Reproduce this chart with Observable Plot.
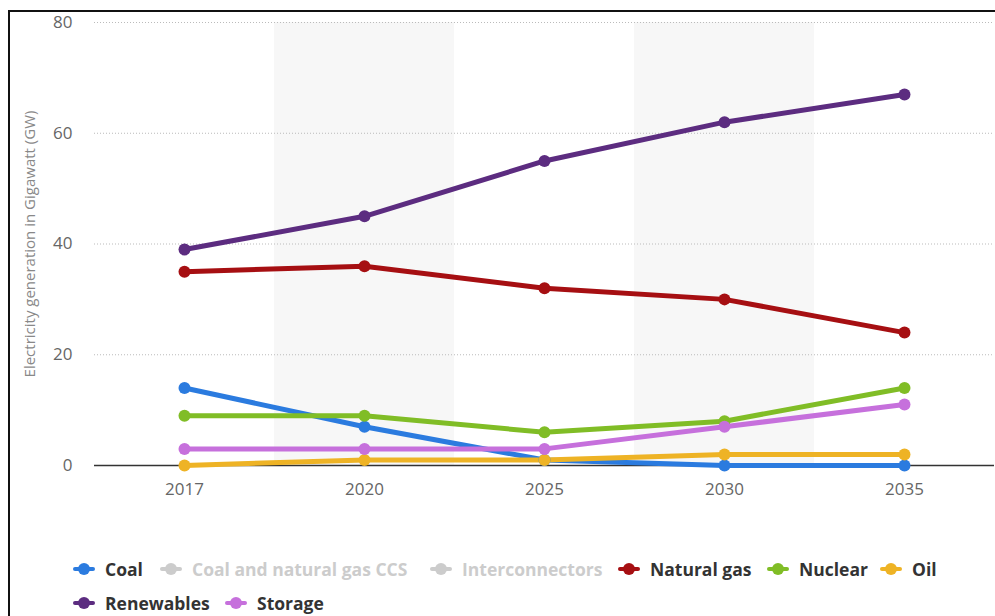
<!DOCTYPE html>
<html><head><meta charset="utf-8">
<script src="https://cdn.jsdelivr.net/npm/d3@7"></script>
<script src="https://cdn.jsdelivr.net/npm/@observablehq/plot@0.6"></script>
<style>
body{margin:0;background:#fff;font-family:"Open Sans",sans-serif;}
#wrap{position:relative;width:995px;height:616px;overflow:hidden;}
#bl{position:absolute;left:8px;top:10px;width:2px;height:606px;background:#111;}
#bt{position:absolute;left:8px;top:10px;width:987px;height:2px;background:#111;}
#chart{position:absolute;left:0;top:0;}
.item{position:absolute;display:flex;align-items:center;font-weight:700;font-size:17.5px;color:#333;white-space:nowrap;}
.item.off{color:#ccc;}
.mk{position:relative;width:22px;height:12px;margin-right:10px;}
.mk .ln{position:absolute;left:0;top:4px;width:22px;height:4px;border-radius:2px;}
.mk .ci{position:absolute;left:5px;top:0;width:12px;height:12px;border-radius:50%;}
</style></head>
<body><div id="wrap"><div id="chart"></div><div id="bl"></div><div id="bt"></div><div id="legend"></div></div>
<script>
const years = ["2017","2020","2025","2030","2035"];
const seriesNames = ["Coal","Coal and natural gas CCS","Interconnectors","Natural gas","Nuclear","Oil","Renewables","Storage"];
const seriesColors = ["#2b7bdf","#cccccc","#cccccc","#a60f12","#80bd26","#eeb325","#5c2c80","#c670dc"];
const hidden = ["Coal and natural gas CCS","Interconnectors"];
const coal = [14,7,1,0,0];
const naturalGas = [35,36,32,30,24];
const nuclear = [9,9,6,8,14];
const oil = [0,1,1,2,2];
const renewables = [39,45,55,62,67];
const storage = [3,3,3,7,11];
const yTicks = [0,20,40,60,80];
const shadedYears = ["2020","2030"];
const yLabel = "Electricity generation in Gigawatt (GW)";

const visible = [["Coal",coal],["Natural gas",naturalGas],["Nuclear",nuclear],["Oil",oil],["Renewables",renewables],["Storage",storage]];
const data = [];
for (const [name, vals] of visible) vals.forEach((v,i)=>data.push({series:name, year:years[i], value:v}));
const colorOf = n => seriesColors[seriesNames.indexOf(n)];

const plot = Plot.plot({
  width: 995, height: 500,
  marginLeft: 94, marginRight: 1, marginTop: 22, marginBottom: 35,
  style: {fontFamily: "Open Sans, sans-serif", fontSize: "17px", color: "#666", background: "transparent"},
  x: {type: "band", domain: years, padding: 0, label: null, tickSize: 0, tickPadding: 17},
  y: {domain: [0,80], ticks: yTicks, label: null, tickSize: 0, tickPadding: 22},
  color: {domain: seriesNames, range: seriesColors},
  marks: [
    Plot.barY(shadedYears, {x: d=>d, y1: 0, y2: 80, fill: "#f7f7f7", inset: 0}),
    Plot.gridY(yTicks.filter(t=>t>0), {stroke: "#bbb", strokeOpacity: 1, strokeDasharray: "1,2", strokeWidth: 1}),
    Plot.ruleY([0], {stroke: "#333", strokeWidth: 1.5}),
    Plot.line(data, {x: "year", y: "value", z: "series", stroke: d=>colorOf(d.series), strokeWidth: 5, curve: "linear"}),
    Plot.dot(data, {x: "year", y: "value", fill: d=>colorOf(d.series), r: 6}),
    Plot.text([yLabel], {frameAnchor: "left", dx: -64, dy: 0, rotate: -90, textAnchor: "middle", text: d=>d, fontSize: 15, fill: "#888"})
  ]
});
document.getElementById("chart").appendChild(plot);

// legend
const legendPos = {
  "Coal":[73,569], "Coal and natural gas CCS":[160,569], "Interconnectors":[430,569],
  "Natural gas":[618,569], "Nuclear":[767,569], "Oil":[880,569],
  "Renewables":[73,603], "Storage":[225,603]
};
const lg = document.getElementById("legend");
seriesNames.forEach((n,i)=>{
  const [x,y] = legendPos[n];
  const it = document.createElement("div");
  it.className = "item" + (hidden.includes(n) ? " off" : "");
  it.style.left = x + "px"; it.style.top = (y-12) + "px"; it.style.height = "24px";
  it.innerHTML = `<span class="mk"><span class="ln" style="background:${seriesColors[i]}"></span><span class="ci" style="background:${seriesColors[i]}"></span></span><span>${n}</span>`;
  lg.appendChild(it);
});
</script></body></html>
